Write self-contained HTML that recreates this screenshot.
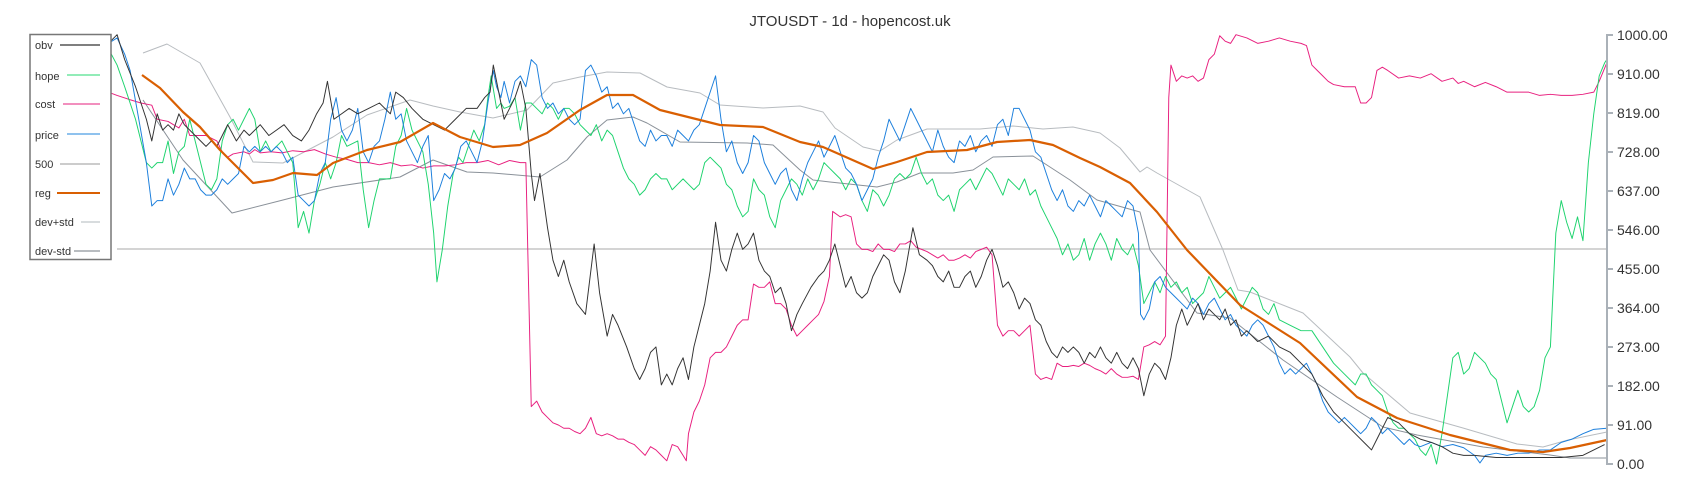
<!DOCTYPE html>
<html><head><meta charset="utf-8"><style>
html,body{margin:0;padding:0;background:#fff;width:1700px;height:500px;overflow:hidden}
svg{display:block}
text{font-family:"Liberation Sans",sans-serif}
</style></head><body>
<svg width="1700" height="500" viewBox="0 0 1700 500" xmlns="http://www.w3.org/2000/svg">
<text x="850" y="26" text-anchor="middle" font-size="15" fill="#333">JTOUSDT - 1d - hopencost.uk</text>
<g fill="none" stroke-linejoin="round">
<line x1="117" y1="249" x2="1607" y2="249" stroke="#bbb" stroke-width="1.3"/>
<polyline stroke="#b8bcc0" stroke-width="1" points="143,53 167,44 200,63 230,117 253,162 283,163 333,137 367,115 410,100 433,106 460,112 493,118 527,110 553,83 580,77 607,72 640,73 667,87 700,93 720,105 763,108 800,106 823,112 835,128 863,147 880,151 897,140 927,129 980,129 1013,126 1043,129 1073,127 1100,133 1120,148 1140,172 1147,167 1157,173 1200,197 1223,250 1238,290 1250,292 1303,313 1350,357 1363,373 1410,413 1463,428 1517,444 1543,447 1568,440 1607,432"/>
<polyline stroke="#8a9199" stroke-width="1" points="143,100 183,160 232,213 283,200 333,187 400,177 433,160 467,172 493,173 540,177 567,160 587,137 607,120 633,117 647,123 680,142 747,143 773,145 800,170 813,180 830,182 877,187 897,182 920,173 953,173 973,170 993,157 1033,156 1070,180 1097,200 1140,212 1150,250 1197,313 1230,318 1283,360 1337,397 1383,427 1417,435 1483,447 1550,455 1570,458 1607,458"/>
</g>
<g transform="scale(1.0842)" fill="none" stroke-linejoin="round">
<polyline stroke="#e8207f" stroke-width="0.9" points="100,85 108,88 120,92 130,95 140,97 145,110 155,112 165,118 170,110 175,125 180,125 190,125 200,130 205,140 210,145 215,142 225,140 230,142 235,138 240,141 250,140 260,141 270,139 280,140 290,138 300,142 310,145 320,147 330,150 340,150 350,152 360,150 370,153 380,152 390,155 400,153 410,153 420,152 430,150 440,150 450,148 460,152 470,148 480,150 485,150 490,375 495,370 500,380 505,385 510,390 515,392 520,395 525,395 530,398 535,400 540,395 545,385 550,400 555,402 560,400 565,402 570,405 575,405 580,408 585,410 590,415 595,420 600,412 605,415 610,420 615,425 620,410 625,412 630,420 633,425 635,400 640,380 645,370 650,355 655,330 660,325 665,325 670,320 675,310 680,300 685,295 690,295 695,262 700,265 705,265 710,260 715,280 720,280 725,285 730,300 735,310 740,305 745,300 750,295 755,290 760,278 765,255 768,195 775,200 780,198 785,200 790,225 795,230 800,230 805,232 810,225 815,230 820,230 825,232 830,225 835,225 840,222 845,228 850,230 855,232 860,235 865,238 870,235 875,240 880,240 885,238 890,235 895,238 900,232 905,230 910,228 915,235 920,300 925,310 930,305 935,305 940,310 945,305 950,300 955,345 960,350 965,348 970,350 975,335 980,338 985,338 990,337 995,338 1000,335 1005,337 1010,340 1015,342 1020,345 1025,340 1030,345 1035,348 1040,348 1045,347 1050,350 1055,320 1060,318 1065,315 1070,318 1075,310 1078,90 1080,60 1085,75 1090,70 1095,72 1100,70 1105,75 1110,72 1115,55 1120,50 1125,33 1130,38 1135,40 1140,32 1150,35 1160,40 1170,38 1180,35 1190,38 1200,40 1205,42 1210,60 1215,65 1220,70 1225,75 1230,78 1240,80 1250,80 1255,95 1260,95 1265,90 1270,65 1275,62 1280,65 1290,72 1300,70 1310,72 1320,68 1330,75 1340,72 1345,77 1350,75 1360,80 1370,76 1380,80 1390,85 1400,85 1410,85 1420,88 1430,87 1440,88 1450,88 1460,87 1470,85 1475,75 1482,58"/>
<polyline stroke="#1ed36e" stroke-width="0.9" points="100,45 108,60 115,80 125,110 135,150 140,155 145,150 150,150 155,130 160,160 165,140 170,135 175,110 180,130 185,150 190,170 195,175 200,165 205,130 210,115 215,110 220,120 225,110 230,100 235,110 240,140 245,130 250,140 255,135 260,130 270,150 275,210 280,195 285,215 290,185 295,170 300,150 305,165 310,150 315,125 320,135 330,130 335,175 340,210 345,185 350,165 360,165 365,135 370,125 375,100 380,120 390,140 395,170 400,215 403,260 408,230 413,190 418,160 423,145 427,150 432,135 437,120 442,130 447,115 450,90 453,70 458,100 462,95 465,100 470,98 475,90 480,120 485,95 490,95 495,100 500,105 505,95 510,100 515,110 520,100 525,100 530,105 535,115 540,120 545,125 550,115 555,130 560,120 565,125 570,140 575,155 580,165 585,170 590,180 595,175 600,165 605,160 610,165 615,165 620,175 625,170 630,165 635,170 640,175 645,170 650,150 655,145 660,150 665,155 670,170 675,175 680,190 685,200 690,195 695,165 700,175 705,180 710,200 715,210 720,185 725,175 730,165 735,170 740,180 745,165 750,175 755,165 760,150 765,155 770,160 775,165 780,175 785,165 790,170 795,185 800,195 805,175 810,180 815,190 820,180 825,165 830,160 835,165 840,160 845,145 850,160 855,170 860,165 865,180 870,185 875,180 880,195 885,175 890,170 895,165 900,175 905,165 910,155 915,160 920,170 925,180 930,165 935,170 940,175 945,165 950,180 955,175 960,190 965,200 970,210 975,220 980,235 985,225 990,240 995,235 1000,220 1005,240 1010,225 1015,215 1020,225 1025,240 1030,220 1035,230 1040,235 1045,225 1050,245 1055,280 1060,270 1065,260 1070,270 1075,255 1080,265 1085,260 1090,270 1095,265 1100,280 1105,275 1110,270 1115,255 1120,265 1125,275 1130,270 1135,265 1140,275 1145,285 1150,275 1155,265 1160,270 1165,285 1170,290 1175,280 1180,295 1190,300 1200,305 1210,305 1220,320 1230,335 1240,345 1250,355 1255,345 1260,345 1265,355 1270,360 1275,365 1280,380 1285,390 1290,395 1295,395 1300,400 1305,405 1310,415 1315,420 1320,410 1325,428 1330,400 1335,365 1340,330 1345,325 1350,345 1355,340 1360,325 1365,330 1370,335 1375,345 1380,350 1385,370 1390,390 1395,375 1400,360 1405,375 1410,380 1415,375 1420,360 1425,330 1430,320 1435,215 1440,185 1445,205 1450,220 1455,200 1460,222 1465,150 1470,105 1475,70 1480,58 1482,55"/>
<polyline stroke="#1c7fdc" stroke-width="0.9" points="100,40 108,35 115,50 120,65 128,110 135,150 140,190 145,185 150,185 155,165 160,180 165,170 170,155 175,165 180,165 185,175 190,180 195,180 200,175 205,165 210,170 215,165 220,160 225,135 230,140 235,135 240,140 245,135 250,140 255,135 260,140 265,150 270,145 275,180 280,185 285,190 290,185 295,160 300,150 305,110 310,90 315,120 320,130 325,120 330,100 335,140 340,150 345,135 350,130 355,110 360,85 365,110 370,105 375,130 380,140 385,150 390,135 395,125 400,185 405,175 410,160 415,165 420,155 425,135 430,130 435,140 440,150 445,130 450,95 455,65 458,80 462,90 465,75 470,95 475,75 480,70 485,80 490,55 495,60 500,90 505,100 510,95 515,105 520,100 525,110 530,115 535,110 540,65 545,60 550,70 555,85 560,80 565,100 570,95 575,105 580,100 585,115 590,130 595,135 600,120 605,130 610,125 615,125 620,135 625,120 630,125 635,130 640,120 645,115 650,100 655,85 660,70 665,110 670,140 675,130 680,150 685,160 690,150 695,125 700,130 705,150 710,160 715,170 720,160 725,155 730,175 735,185 740,165 745,150 750,140 755,130 760,145 765,135 770,125 775,140 780,155 785,160 790,170 795,185 800,175 805,165 810,145 815,130 820,110 825,120 830,130 835,115 840,100 845,110 850,120 855,130 860,140 865,120 870,135 875,145 880,150 885,130 890,135 895,125 900,140 905,130 910,125 915,135 920,115 925,110 930,125 935,100 940,100 945,110 950,120 955,140 960,145 965,160 970,175 975,185 980,175 985,190 990,195 995,185 1000,190 1005,180 1010,190 1015,200 1020,185 1025,190 1030,195 1035,200 1040,185 1045,190 1050,215 1052,290 1055,295 1060,285 1065,260 1070,255 1075,265 1080,270 1085,275 1090,280 1095,285 1100,275 1105,280 1110,290 1115,280 1120,275 1125,285 1130,295 1135,290 1140,300 1145,305 1150,310 1155,300 1160,295 1165,300 1170,310 1175,320 1180,335 1185,345 1190,340 1195,345 1200,340 1205,335 1210,345 1215,355 1220,370 1225,380 1230,385 1235,390 1240,385 1245,390 1250,395 1255,400 1260,395 1265,385 1270,390 1275,400 1280,395 1285,400 1290,405 1295,410 1300,405 1305,410 1310,412 1320,408 1330,412 1340,410 1350,413 1360,420 1365,427 1370,420 1380,418 1390,420 1400,418 1410,418 1420,415 1430,415 1440,408 1450,405 1460,400 1465,398 1470,396 1482,395"/>
<polyline stroke="#333" stroke-width="0.9" points="100,40 108,32 115,55 125,80 135,110 140,130 145,105 150,120 155,115 160,120 165,105 170,115 180,125 190,135 195,130 200,135 205,125 210,115 218,130 225,120 230,125 240,115 248,125 255,120 262,115 270,125 278,130 285,120 292,105 298,95 302,75 308,110 315,105 322,100 330,105 340,100 350,95 360,105 365,85 372,90 380,100 390,110 400,115 410,120 420,110 430,100 440,100 447,90 452,85 455,60 460,85 465,110 470,100 475,90 480,75 485,100 490,160 493,185 498,160 505,210 510,240 515,255 520,240 525,260 532,280 540,290 548,225 553,270 560,310 565,290 570,300 578,320 585,340 590,350 595,340 600,325 605,320 610,355 615,345 620,355 625,340 630,330 635,350 640,320 645,300 650,280 655,250 660,205 665,240 670,250 675,230 680,215 685,230 690,225 695,215 700,240 705,250 710,255 715,270 720,265 725,280 730,305 735,290 740,280 748,265 755,255 760,250 765,240 770,225 775,245 780,265 785,255 790,270 795,275 800,270 805,255 810,245 815,235 820,240 825,260 830,270 835,250 842,210 848,235 855,240 860,245 865,255 870,260 875,250 880,265 885,265 890,255 895,250 900,265 905,255 910,240 915,230 920,245 925,265 930,260 935,270 940,285 945,275 950,280 955,295 960,300 965,315 970,325 975,330 980,320 985,325 990,320 995,325 1000,335 1005,325 1010,330 1015,320 1020,330 1025,335 1030,325 1035,335 1040,340 1045,330 1050,340 1055,365 1060,345 1065,335 1070,340 1075,350 1080,330 1085,300 1090,285 1095,300 1100,290 1105,280 1110,295 1115,285 1120,290 1125,295 1130,285 1135,300 1140,295 1145,310 1150,305 1160,315 1170,310 1180,320 1190,325 1200,335 1210,345 1220,365 1230,380 1240,390 1250,400 1260,410 1265,415 1270,405 1280,385 1290,390 1300,400 1310,405 1320,408 1330,412 1340,418 1350,420 1360,420 1380,422 1400,422 1420,422 1440,422 1460,420 1470,415 1480,410"/>
</g>
<polyline fill="none" stroke="#d95f02" stroke-width="2.2" stroke-linejoin="round" points="142,75 160,88 183,112 200,127 220,150 240,170 253,183 273,180 293,173 317,175 333,163 367,150 400,142 433,123 460,137 493,147 520,145 547,133 580,110 607,95 633,95 660,110 700,120 720,125 763,127 800,142 823,147 873,169 897,162 927,152 967,150 997,142 1030,140 1053,145 1080,158 1100,167 1130,183 1157,212 1187,250 1240,305 1300,343 1357,397 1397,418 1450,435 1510,450 1543,452 1570,448 1607,440"/>
<g stroke="#aab1b8" stroke-width="2">
<line x1="1607" y1="34" x2="1607" y2="465"/>
<line x1="1607" y1="35" x2="1613" y2="35"/><line x1="1607" y1="74" x2="1613" y2="74"/><line x1="1607" y1="113" x2="1613" y2="113"/><line x1="1607" y1="152" x2="1613" y2="152"/><line x1="1607" y1="191" x2="1613" y2="191"/><line x1="1607" y1="230" x2="1613" y2="230"/><line x1="1607" y1="269" x2="1613" y2="269"/><line x1="1607" y1="308" x2="1613" y2="308"/><line x1="1607" y1="347" x2="1613" y2="347"/><line x1="1607" y1="386" x2="1613" y2="386"/><line x1="1607" y1="425" x2="1613" y2="425"/><line x1="1607" y1="464" x2="1613" y2="464"/>
</g>
<g font-size="14" fill="#333">
<text x="1617" y="40">1000.00</text><text x="1617" y="79">910.00</text><text x="1617" y="118">819.00</text><text x="1617" y="157">728.00</text><text x="1617" y="196">637.00</text><text x="1617" y="235">546.00</text><text x="1617" y="274">455.00</text><text x="1617" y="313">364.00</text><text x="1617" y="352">273.00</text><text x="1617" y="391">182.00</text><text x="1617" y="430">91.00</text><text x="1617" y="469">0.00</text>
</g>
<rect x="30" y="34.5" width="81" height="225" fill="#fff" stroke="#777" stroke-width="1.5"/>
<g font-size="11" fill="#333">
<text x="35" y="49">obv</text><text x="35" y="80">hope</text><text x="35" y="108">cost</text><text x="35" y="139">price</text><text x="35" y="168">500</text><text x="35" y="197">reg</text><text x="35" y="226">dev+std</text><text x="35" y="255">dev-std</text>
</g>
<g stroke-width="1.5">
<line x1="60" y1="45" x2="100" y2="45" stroke="#555"/>
<line x1="67" y1="75" x2="100" y2="75" stroke="#6ee6a0"/>
<line x1="63" y1="104" x2="100" y2="104" stroke="#ee6aa8"/>
<line x1="67" y1="134" x2="100" y2="134" stroke="#6aaee8"/>
<line x1="60" y1="164" x2="100" y2="164" stroke="#bbb"/>
<line x1="57" y1="193" x2="100" y2="193" stroke="#d95f02" stroke-width="2"/>
<line x1="81" y1="222" x2="100" y2="222" stroke="#ccd0d4"/>
<line x1="74" y1="251" x2="100" y2="251" stroke="#a0a6ac"/>
</g>
</svg>
</body></html>
